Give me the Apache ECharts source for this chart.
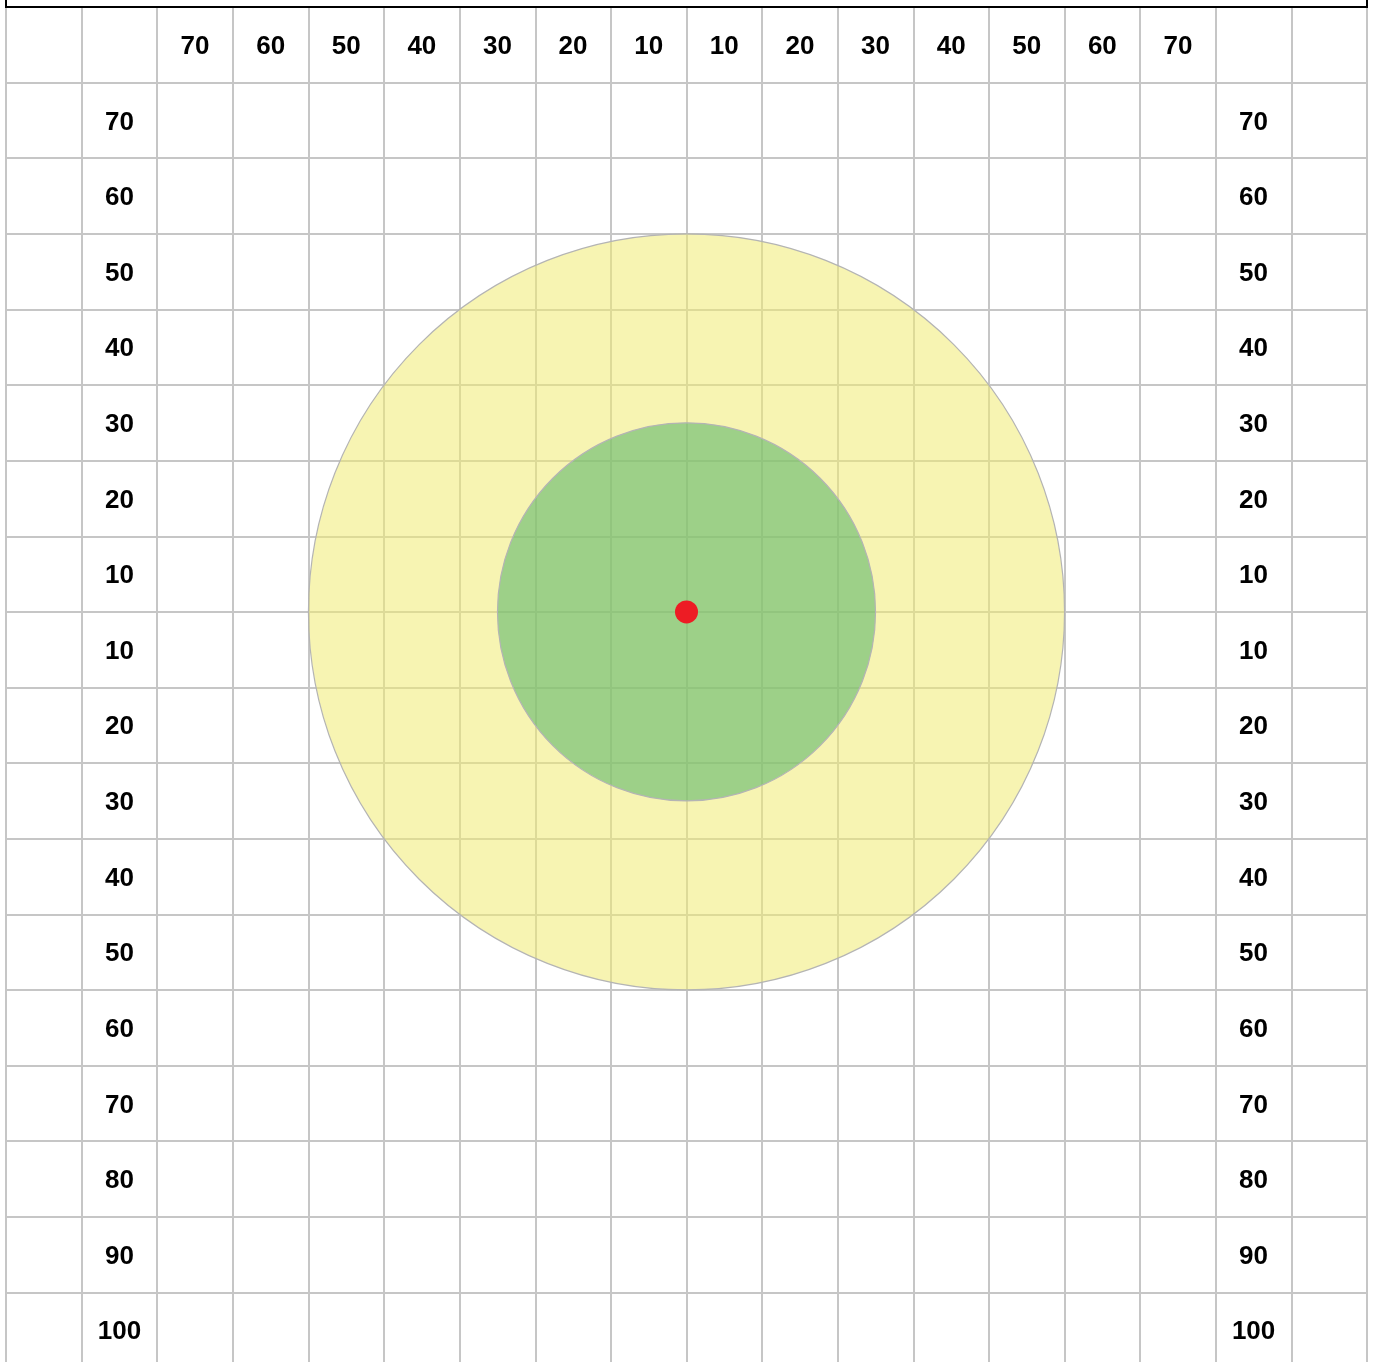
<!DOCTYPE html>
<html>
<head>
<meta charset="utf-8">
<title>target</title>
<script src="https://cdn.jsdelivr.net/npm/echarts@6/dist/echarts.min.js"></script>
<style>
  html, body { margin: 0; padding: 0; background: #fff; overflow: hidden; }
  #main { width: 1374px; height: 1370px; }
</style>
</head>
<body>
<div id="main"></div>
<script>
// column labels across the header row (negative = left of centre)
var xTickValues = [-70, -60, -50, -40, -30, -20, -10, 10, 20, 30, 40, 50, 60, 70];
// row labels down both sides (negative = below centre)
var yTickValues = [70, 60, 50, 40, 30, 20, 10, -10, -20, -30, -40, -50, -60, -70, -80, -90, -100];
// zones around the centre point, radius in axis units
var zoneNames = ['outer', 'inner'];
var zoneRadius = [50, 25];
var centerPoint = [0, 0];

var headerRow = 75;   // y of header row centre
var leftCol = -75;    // x of left label column centre
var rightCol = 75;    // x of right label column centre

// a label sits in the middle of the cell whose outer edge is its value
function cellMid(v) {
    return v - (v > 0 ? 5 : -5);
}

var labelData = [];
xTickValues.forEach(function (v) {
    labelData.push({ value: [cellMid(v), headerRow], name: String(Math.abs(v)) });
});
yTickValues.forEach(function (v) {
    labelData.push({ value: [leftCol, cellMid(v)], name: String(Math.abs(v)) });
    labelData.push({ value: [rightCol, cellMid(v)], name: String(Math.abs(v)) });
});

var zoneColors = ['rgba(240,235,112,0.54)', 'rgba(97,184,108,0.6)'];

var zoneData = zoneNames.map(function (n, i) {
    return { name: n, value: [centerPoint[0], centerPoint[1], zoneRadius[i]] };
});

var chart = echarts.init(document.getElementById('main'));
var option = {
    animation: false,
    backgroundColor: '#fff',
    grid: { left: 6, top: 7, width: 1361, height: 1361 },
    xAxis: {
        type: 'value',
        min: -90,
        max: 90,
        interval: 10,
        axisLine: { show: false },
        axisTick: { show: false },
        axisLabel: { show: false },
        splitLine: { show: true, lineStyle: { color: '#c6c6c6', width: 2 } }
    },
    yAxis: {
        type: 'value',
        min: -100,
        max: 80,
        interval: 10,
        axisLine: { show: false },
        axisTick: { show: false },
        axisLabel: { show: false },
        splitLine: { show: true, lineStyle: { color: '#c6c6c6', width: 2 } }
    },
    series: [
        {
            type: 'custom',
            data: zoneData,
            renderItem: function (params, api) {
                var c = api.coord([api.value(0), api.value(1)]);
                var r = api.size([api.value(2), 0])[0];
                return {
                    type: 'circle',
                    shape: { cx: c[0], cy: c[1], r: r },
                    style: {
                        fill: zoneColors[params.dataIndex],
                        stroke: '#b4b4b4',
                        lineWidth: 1.2
                    }
                };
            },
            z: 2
        },
        {
            type: 'scatter',
            data: [centerPoint],
            symbol: 'circle',
            symbolSize: 23,
            itemStyle: { color: '#ed1c24', opacity: 1 },
            z: 4
        },
        {
            type: 'scatter',
            data: labelData,
            symbolSize: 0,
            itemStyle: { opacity: 1 },
            label: {
                show: true,
                position: 'inside',
                offset: [0, 2],
                formatter: '{b}',
                color: '#000',
                opacity: 1,
                fontSize: 26,
                fontWeight: 'bold',
                fontFamily: 'Liberation Sans, Arial, sans-serif'
            },
            z: 5
        }
    ],
    graphic: [
        {
            type: 'rect',
            shape: { x: 6, y: -20, width: 1361, height: 27 },
            style: { fill: 'none', stroke: '#000', lineWidth: 2 },
            z: 100
        }
    ]
};
chart.setOption(option);
</script>
</body>
</html>
